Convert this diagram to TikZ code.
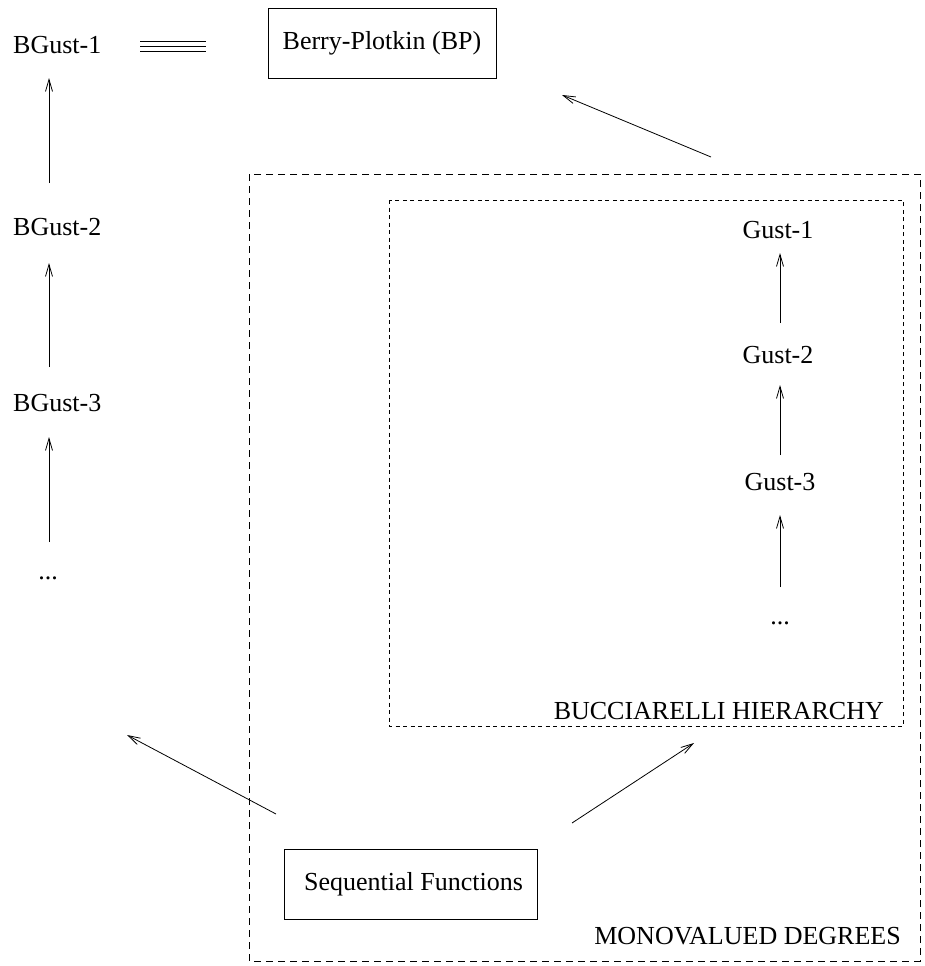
\documentclass[tikz,border=0pt]{standalone}
\usepackage{fontspec}
\setmainfont{Liberation Serif}
\usetikzlibrary{arrows.meta}
\begin{document}
\begin{tikzpicture}[x=1pt,y=-1pt,
  lbl/.style={font=\fontsize{26}{31}\selectfont, inner sep=0pt},
  boxed/.style={font=\fontsize{26}{31}\selectfont, draw, line width=0.8pt, inner sep=0pt, minimum height=70pt},
  arr/.style={line width=0.8pt, -{Straight Barb[length=12pt,width=7pt]}},
  outerdash/.style={draw, line width=0.8pt, dash pattern=on 7pt off 5pt},
  innerdash/.style={draw, line width=0.8pt, dash pattern=on 4pt off 3.5pt},
  triple/.style={line width=0.7pt}]
\useasboundingbox (0,0) rectangle (924,966);

% left column
\node[lbl, anchor=base west] (bg1) at (13,53) {BGust-1};
\node[lbl, anchor=base west] (bg2) at (13,235) {BGust-2};
\node[lbl, anchor=base west] (bg3) at (13,411) {BGust-3};
\node[lbl, anchor=base] (bgd) at (48,579) {...};

\coordinate (a1s) at (49,183); \coordinate (a1e) at (49,78);
\coordinate (a2s) at (49,367); \coordinate (a2e) at (49,263);
\coordinate (a3s) at (49,542); \coordinate (a3e) at (49,437);
\draw[arr] (a1s) -- (a1e);
\draw[arr] (a2s) -- (a2e);
\draw[arr] (a3s) -- (a3e);

% triple line
\coordinate (e1) at (140,41); \coordinate (e2) at (206,41);
\coordinate (e3) at (140,46); \coordinate (e4) at (206,46);
\coordinate (e5) at (140,51); \coordinate (e6) at (206,51);
\draw[triple] (e1) -- (e2);
\draw[triple] (e3) -- (e4);
\draw[triple] (e5) -- (e6);

% Berry-Plotkin
\node[boxed, minimum width=228pt] (bp) at (382,43) {Berry-Plotkin (BP)};

% outer and inner dashed boxes
\coordinate (o1) at (249,174); \coordinate (o2) at (920,961);
\draw[outerdash] (o1) rectangle (o2);
\coordinate (i1) at (389,200); \coordinate (i2) at (903,726);
\draw[innerdash] (i1) rectangle (i2);

\coordinate (bps) at (711,157); \coordinate (bpe) at (562,95);
\draw[arr] (bps) -- (bpe);

% Gust column
\node[lbl, anchor=base] (g1) at (778,238) {Gust-1};
\node[lbl, anchor=base] (g2) at (778,363) {Gust-2};
\node[lbl, anchor=base] (g3) at (780,490) {Gust-3};
\node[lbl, anchor=base] (gd) at (780,624) {...};

\coordinate (b1s) at (780,323); \coordinate (b1e) at (780,253);
\coordinate (b2s) at (780,455); \coordinate (b2e) at (780,385);
\coordinate (b3s) at (780,587); \coordinate (b3e) at (780,515);
\draw[arr] (b1s) -- (b1e);
\draw[arr] (b2s) -- (b2e);
\draw[arr] (b3s) -- (b3e);

\node[lbl, anchor=base east] (bh) at (884,719) {BUCCIARELLI HIERARCHY};
\node[lbl, anchor=base east] (md) at (901,944) {MONOVALUED DEGREES};

% Sequential functions
\node[boxed, minimum width=253pt] (sf) at (410.5,884) {\hspace*{6pt}Sequential Functions};

\coordinate (ls) at (276,814); \coordinate (le) at (127,735);
\coordinate (rs) at (572,823); \coordinate (re) at (694,743);
\draw[arr] (ls) -- (le);
\draw[arr] (rs) -- (re);
\end{tikzpicture}
\end{document}
